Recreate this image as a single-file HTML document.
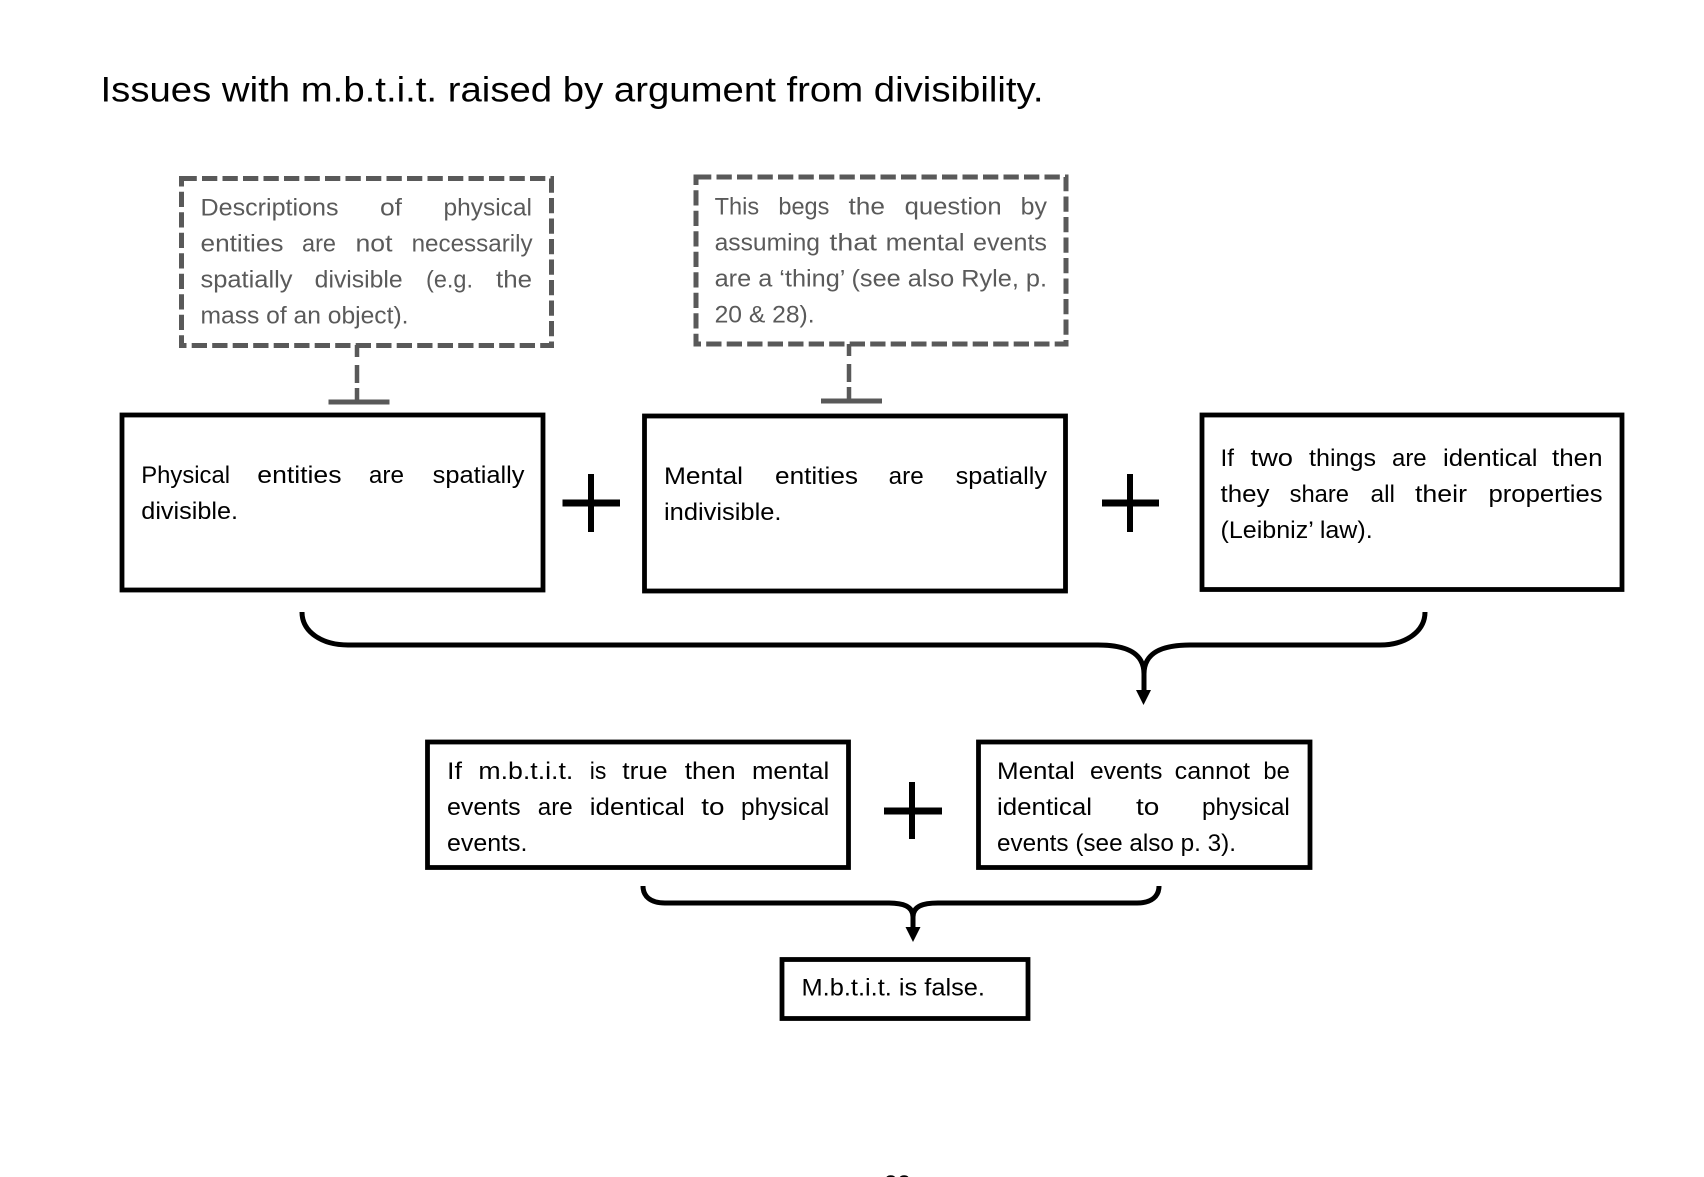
<!DOCTYPE html>
<html lang="en">
<head>
<meta charset="utf-8">
<title>Issues with m.b.t.i.t.</title>
<style>
html,body{margin:0;padding:0;background:#fff;width:1704px;height:1177px;overflow:hidden}
svg{display:block}
text{font-family:"Liberation Sans",sans-serif;font-size:24px;fill:#000}
.g text{fill:#5a5a5a}
</style>
</head>
<body>
<svg width="1704" height="1177" viewBox="0 0 1704 1177" xmlns="http://www.w3.org/2000/svg">
<rect width="1704" height="1177" fill="#fff"/>

<text x="100.5" y="101.5" style="font-size:35.5px" textLength="943" lengthAdjust="spacingAndGlyphs">Issues with m.b.t.i.t. raised by argument from divisibility.</text>

<!-- dashed boxes -->
<g fill="none" stroke="#595959" stroke-width="5" stroke-dasharray="15.3 5.2">
<rect x="181.5" y="178.5" width="370" height="167"/>
<rect x="696" y="177" width="370" height="167"/>
</g>
<g fill="none" stroke="#595959" stroke-width="4.5" stroke-dasharray="12 8 18 5 12">
<path d="M357 345V400"/>
<path d="M849 344V399"/>
</g>
<g stroke="#595959" stroke-width="5" fill="none">
<path d="M328.5 402H389.5"/>
<path d="M821 401H882"/>
</g>

<!-- solid boxes -->
<g fill="none" stroke="#000" stroke-width="4.8">
<rect x="122" y="415" width="421" height="175"/>
<rect x="644.5" y="416" width="421" height="175"/>
<rect x="1202" y="415" width="420" height="174.5"/>
<rect x="427.5" y="742" width="421" height="125.5"/>
<rect x="978.5" y="742" width="331.5" height="125.5"/>
<rect x="782" y="959.5" width="246" height="59"/>
</g>

<!-- plus signs -->
<g stroke="#000" fill="none">
<path d="M562.5 503H620" stroke-width="7"/><path d="M591 474V532" stroke-width="6"/>
<path d="M1102 503H1159" stroke-width="7"/><path d="M1130 474V532" stroke-width="6"/>
<path d="M884 811H942" stroke-width="7"/><path d="M912 782V839" stroke-width="6"/>
</g>

<!-- braces -->
<g fill="none" stroke="#000" stroke-width="5">
<path d="M302 612C302 632 322 645 348 645L1098 645C1125 645 1144 652 1144 674V692"/>
<path d="M1425 612C1425 632 1405 645 1380 645L1190 645C1163 645 1144 652 1144 674V692"/>
<path d="M643 886C643 896 650 903 665 903L888 903C903 903 913 906 913 917V929"/>
<path d="M1159 886C1159 896 1152 903 1137 903L938 903C923 903 913 906 913 917V929"/>
</g>
<path d="M1136 690H1151L1143.5 705Z" fill="#000"/>
<path d="M905.5 927H920.5L913 942Z" fill="#000"/>

<!-- grey text -->
<g class="g">
<text x="200.5" y="215.5" textLength="138" lengthAdjust="spacingAndGlyphs">Descriptions</text>
<text x="380" y="215.5" textLength="22" lengthAdjust="spacingAndGlyphs">of</text>
<text x="443.5" y="215.5" textLength="88.5" lengthAdjust="spacingAndGlyphs">physical</text>
<text x="200.5" y="251.7" textLength="83" lengthAdjust="spacingAndGlyphs">entities</text>
<text x="302" y="251.7" textLength="34" lengthAdjust="spacingAndGlyphs">are</text>
<text x="355.5" y="251.7" textLength="37" lengthAdjust="spacingAndGlyphs">not</text>
<text x="411.6" y="251.7" textLength="121" lengthAdjust="spacingAndGlyphs">necessarily</text>
<text x="200.5" y="287.7" textLength="92" lengthAdjust="spacingAndGlyphs">spatially</text>
<text x="314.7" y="287.7" textLength="88" lengthAdjust="spacingAndGlyphs">divisible</text>
<text x="426" y="287.7" textLength="47" lengthAdjust="spacingAndGlyphs">(e.g.</text>
<text x="496" y="287.7" textLength="36" lengthAdjust="spacingAndGlyphs">the</text>
<text x="200.5" y="323.5" textLength="208" lengthAdjust="spacingAndGlyphs">mass of an object).</text>

<text x="714.6" y="214.5" textLength="44.5" lengthAdjust="spacingAndGlyphs">This</text>
<text x="778.4" y="214.5" textLength="51" lengthAdjust="spacingAndGlyphs">begs</text>
<text x="848.5" y="214.5" textLength="36.5" lengthAdjust="spacingAndGlyphs">the</text>
<text x="904.6" y="214.5" textLength="97" lengthAdjust="spacingAndGlyphs">question</text>
<text x="1020.7" y="214.5" textLength="26.3" lengthAdjust="spacingAndGlyphs">by</text>
<text x="714.6" y="250.7" textLength="105.4" lengthAdjust="spacingAndGlyphs">assuming</text>
<text x="829.4" y="250.7" textLength="47.6" lengthAdjust="spacingAndGlyphs">that</text>
<text x="885.6" y="250.7" textLength="79" lengthAdjust="spacingAndGlyphs">mental</text>
<text x="973" y="250.7" textLength="74" lengthAdjust="spacingAndGlyphs">events</text>
<text x="714.6" y="286.7" textLength="332.4" lengthAdjust="spacingAndGlyphs">are a ‘thing’ (see also Ryle, p.</text>
<text x="714.6" y="322.5" textLength="100" lengthAdjust="spacingAndGlyphs">20 &amp; 28).</text>
</g>

<!-- black text -->
<text x="141.3" y="483" textLength="88.7" lengthAdjust="spacingAndGlyphs">Physical</text>
<text x="257.3" y="483" textLength="84.2" lengthAdjust="spacingAndGlyphs">entities</text>
<text x="368.9" y="483" textLength="35.1" lengthAdjust="spacingAndGlyphs">are</text>
<text x="432.7" y="483" textLength="91.8" lengthAdjust="spacingAndGlyphs">spatially</text>
<text x="141.3" y="519" textLength="96.7" lengthAdjust="spacingAndGlyphs">divisible.</text>

<text x="664" y="484" textLength="79" lengthAdjust="spacingAndGlyphs">Mental</text>
<text x="775" y="484" textLength="83" lengthAdjust="spacingAndGlyphs">entities</text>
<text x="888.7" y="484" textLength="35" lengthAdjust="spacingAndGlyphs">are</text>
<text x="955.6" y="484" textLength="91.4" lengthAdjust="spacingAndGlyphs">spatially</text>
<text x="664" y="520" textLength="117.5" lengthAdjust="spacingAndGlyphs">indivisible.</text>

<text x="1220.5" y="466" textLength="13.5" lengthAdjust="spacingAndGlyphs">If</text>
<text x="1250.5" y="466" textLength="42.5" lengthAdjust="spacingAndGlyphs">two</text>
<text x="1309" y="466" textLength="67" lengthAdjust="spacingAndGlyphs">things</text>
<text x="1392" y="466" textLength="34.6" lengthAdjust="spacingAndGlyphs">are</text>
<text x="1443" y="466" textLength="94.5" lengthAdjust="spacingAndGlyphs">identical</text>
<text x="1552" y="466" textLength="50.6" lengthAdjust="spacingAndGlyphs">then</text>
<text x="1220.5" y="502" textLength="49" lengthAdjust="spacingAndGlyphs">they</text>
<text x="1289.6" y="502" textLength="59.4" lengthAdjust="spacingAndGlyphs">share</text>
<text x="1370.5" y="502" textLength="24.5" lengthAdjust="spacingAndGlyphs">all</text>
<text x="1415" y="502" textLength="52" lengthAdjust="spacingAndGlyphs">their</text>
<text x="1488.5" y="502" textLength="114.1" lengthAdjust="spacingAndGlyphs">properties</text>
<text x="1220.5" y="538" textLength="152.2" lengthAdjust="spacingAndGlyphs">(Leibniz’ law).</text>

<text x="447" y="779" textLength="15" lengthAdjust="spacingAndGlyphs">If</text>
<text x="478.4" y="779" textLength="94.9" lengthAdjust="spacingAndGlyphs">m.b.t.i.t.</text>
<text x="589.8" y="779" textLength="16.6" lengthAdjust="spacingAndGlyphs">is</text>
<text x="622.3" y="779" textLength="45.3" lengthAdjust="spacingAndGlyphs">true</text>
<text x="684.8" y="779" textLength="50.8" lengthAdjust="spacingAndGlyphs">then</text>
<text x="752" y="779" textLength="77.2" lengthAdjust="spacingAndGlyphs">mental</text>
<text x="447" y="815" textLength="73.6" lengthAdjust="spacingAndGlyphs">events</text>
<text x="537.8" y="815" textLength="34.9" lengthAdjust="spacingAndGlyphs">are</text>
<text x="589.8" y="815" textLength="95" lengthAdjust="spacingAndGlyphs">identical</text>
<text x="701.3" y="815" textLength="23.2" lengthAdjust="spacingAndGlyphs">to</text>
<text x="741" y="815" textLength="88.2" lengthAdjust="spacingAndGlyphs">physical</text>
<text x="447" y="851" textLength="80.4" lengthAdjust="spacingAndGlyphs">events.</text>

<text x="997" y="779" textLength="77.8" lengthAdjust="spacingAndGlyphs">Mental</text>
<text x="1090" y="779" textLength="72.4" lengthAdjust="spacingAndGlyphs">events</text>
<text x="1174.7" y="779" textLength="75.3" lengthAdjust="spacingAndGlyphs">cannot</text>
<text x="1263.4" y="779" textLength="26.4" lengthAdjust="spacingAndGlyphs">be</text>
<text x="997" y="815" textLength="95" lengthAdjust="spacingAndGlyphs">identical</text>
<text x="1136" y="815" textLength="23.3" lengthAdjust="spacingAndGlyphs">to</text>
<text x="1202" y="815" textLength="87.8" lengthAdjust="spacingAndGlyphs">physical</text>
<text x="997" y="851" textLength="239" lengthAdjust="spacingAndGlyphs">events (see also p. 3).</text>

<text x="801.5" y="995.7" textLength="183.5" lengthAdjust="spacingAndGlyphs">M.b.t.i.t. is false.</text>

<text x="884" y="1192">22</text>
</svg>
</body>
</html>
